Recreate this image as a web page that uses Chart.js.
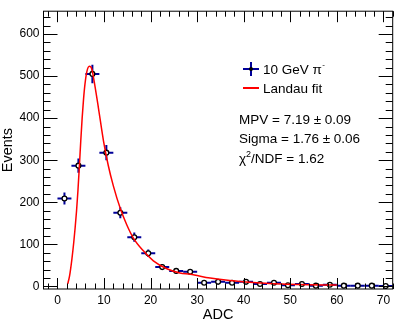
<!DOCTYPE html>
<html>
<head>
<meta charset="utf-8">
<script src="https://cdn.jsdelivr.net/npm/chart.js@4.4.1/dist/chart.umd.min.js"></script>
<style>
  html, body { margin: 0; padding: 0; background: #fff; }
  #wrap { width: 398px; height: 325px; }
</style>
</head>
<body>
<div id="wrap"><canvas id="c" width="398" height="325"></canvas></div>
<script>
// histogram: 3 ADC wide bins
var binCenters = [1.5, 4.5, 7.5, 10.5, 13.5, 16.5, 19.5, 22.5, 25.5, 28.5, 31.5, 34.5,
                  37.5, 40.5, 43.5, 46.5, 49.5, 52.5, 55.5, 58.5, 61.5, 64.5, 67.5, 70.5];
var counts = [209, 287, 505, 318, 175, 117, 79, 46, 37, 35, 9, 11,
              9, 11, 6, 9, 3, 6, 2, 4, 2, 2, 2, 1];
var countErrors = [14, 17, 22, 18, 13, 11, 9, 7, 6, 6, 3, 3.3,
                   3, 3.3, 2.4, 3, 1.7, 2.4, 1.4, 2, 1.4, 1.4, 1.4, 1];
var binHalfWidth = 1.5;

// Landau fit curve
var fitX = [2.2, 2.6, 3.1, 3.5, 3.8, 4.1, 4.4, 4.7, 5.0, 5.3, 5.6, 5.9, 6.3, 6.85, 7.4, 7.9,
            8.8, 9.9, 10.9, 12.0, 13.5, 14.9, 16.3, 18.5, 20.6, 23.5, 26.3, 28.5,
            32.8, 37.0, 41.3, 45.6, 49.2, 54, 58.5, 60];
var fitY = [6, 25, 65, 105, 140, 180, 228, 285, 345, 400, 445, 480, 510, 523, 516, 486,
            424, 345, 288, 239, 185, 146, 115, 84, 61, 42, 32, 29,
            20, 14, 10, 7, 5.5, 4.2, 3.5, 3.3];

var xTicks = [0, 10, 20, 30, 40, 50, 60, 70];
var yTicks = [0, 100, 200, 300, 400, 500, 600];
var xMinorStep = 2;
var yMinorStep = 20;

var fontFamily = "'Liberation Sans', Arial, Helvetica, sans-serif";
Chart.defaults.font.family = fontFamily;
Chart.defaults.color = '#000';

var errorBars = {
  id: 'errorBars',
  beforeDatasetsDraw: function(chart) {
    var xs = chart.scales.x, ys = chart.scales.y, ctx = chart.ctx;
    ctx.save();
    ctx.strokeStyle = '#000099';
    ctx.lineWidth = 2;
    for (var i = 0; i < binCenters.length; i++) {
      var px = xs.getPixelForValue(binCenters[i]);
      var py = ys.getPixelForValue(counts[i]);
      ctx.beginPath();
      ctx.moveTo(xs.getPixelForValue(binCenters[i] - binHalfWidth), py);
      ctx.lineTo(xs.getPixelForValue(binCenters[i] + binHalfWidth), py);
      ctx.moveTo(px, ys.getPixelForValue(counts[i] - countErrors[i]));
      ctx.lineTo(px, ys.getPixelForValue(counts[i] + countErrors[i]));
      ctx.stroke();
    }
    ctx.restore();
  }
};

// ROOT style frame with inward ticks on all four sides
var frame = {
  id: 'frame',
  afterDraw: function(chart) {
    var xs = chart.scales.x, ys = chart.scales.y, ctx = chart.ctx;
    var a = chart.chartArea;
    ctx.save();
    ctx.strokeStyle = '#000';
    ctx.lineWidth = 1;
    ctx.strokeRect(a.left, a.top, a.right - a.left, a.bottom - a.top);
    ctx.beginPath();
    var v, p, len;
    for (v = Math.ceil(xs.min / xMinorStep) * xMinorStep; v <= xs.max; v += xMinorStep) {
      p = Math.round(xs.getPixelForValue(v)) + 0.5;
      len = (v % 10 === 0) ? 11 : 5.5;
      ctx.moveTo(p, a.bottom); ctx.lineTo(p, a.bottom - len);
      ctx.moveTo(p, a.top); ctx.lineTo(p, a.top + len);
    }
    for (v = Math.ceil(ys.min / yMinorStep) * yMinorStep; v <= ys.max; v += yMinorStep) {
      p = Math.round(ys.getPixelForValue(v)) + 0.5;
      len = (v % 100 === 0) ? 14 : 7;
      ctx.moveTo(a.left, p); ctx.lineTo(a.left + len, p);
      ctx.moveTo(a.right, p); ctx.lineTo(a.right - len, p);
    }
    ctx.stroke();
    ctx.restore();
  }
};

var legendBox = {
  id: 'legendBox',
  afterDraw: function(chart) {
    var ctx = chart.ctx;
    ctx.save();
    // histogram entry
    ctx.strokeStyle = '#000099';
    ctx.lineWidth = 2;
    ctx.beginPath();
    ctx.moveTo(243, 69); ctx.lineTo(259, 69);
    ctx.moveTo(251, 62); ctx.lineTo(251, 76);
    ctx.stroke();
    ctx.fillStyle = '#000';
    ctx.beginPath(); ctx.arc(251, 69, 2, 0, Math.PI * 2); ctx.fill();
    // fit entry
    ctx.strokeStyle = '#ff0000';
    ctx.beginPath(); ctx.moveTo(243, 88); ctx.lineTo(259, 88); ctx.stroke();

    ctx.fillStyle = '#000';
    ctx.textBaseline = 'alphabetic';
    ctx.textAlign = 'left';
    ctx.font = '13.5px ' + fontFamily;
    var t = '10 GeV \u03c0';
    ctx.fillText(t, 263, 74);
    var w = ctx.measureText(t).width;
    ctx.font = '8px ' + fontFamily;
    ctx.fillText('-', 263 + w + 0.5, 67);
    ctx.font = '13.5px ' + fontFamily;
    ctx.fillText('Landau fit', 263, 93);
    ctx.fillText('MPV = 7.19 \u00b1 0.09', 239, 123.5);
    ctx.fillText('Sigma = 1.76 \u00b1 0.06', 239, 143);
    ctx.fillText('\u03c7', 239, 162.5);
    var wc = ctx.measureText('\u03c7').width;
    ctx.font = '9px ' + fontFamily;
    ctx.fillText('2', 239 + wc, 156.5);
    var w2 = ctx.measureText('2').width;
    ctx.font = '13.5px ' + fontFamily;
    ctx.fillText('/NDF = 1.62', 239 + wc + w2, 162.5);
    ctx.restore();
  }
};

var histPoints = binCenters.map(function(x, i) { return {x: x, y: counts[i]}; });
var fitPoints = fitX.map(function(x, i) { return {x: x, y: fitY[i]}; });

new Chart(document.getElementById('c'), {
  type: 'scatter',
  data: {
    datasets: [
      {
        label: 'Landau fit',
        data: fitPoints,
        showLine: true,
        borderColor: '#ff0000',
        borderWidth: 1.5,
        pointRadius: 0,
        cubicInterpolationMode: 'monotone',
        order: 0
      },
      {
        label: '10 GeV \u03c0-',
        data: histPoints,
        pointRadius: 2.4,
        pointBorderWidth: 1.3,
        pointBackgroundColor: '#fff',
        pointBorderColor: '#000',
        order: 1
      }
    ]
  },
  options: {
    responsive: false,
    animation: false,
    layout: { padding: { top: 4, right: 5, left: 0, bottom: 0 } },
    plugins: { legend: { display: false }, tooltip: { enabled: false } },
    scales: {
      x: {
        type: 'linear',
        min: -3,
        max: 72,
        afterBuildTicks: function(scale) {
          scale.ticks = xTicks.map(function(v) { return {value: v}; });
        },
        afterFit: function(scale) { scale.height = 36; },
        grid: { display: false, drawTicks: false },
        border: { display: false },
        ticks: { padding: 4, maxRotation: 0, font: { size: 12 } },
        title: { display: true, text: 'ADC', font: { size: 14.5 }, padding: { top: 0, bottom: 1.3 } }
      },
      y: {
        type: 'linear',
        min: -6,
        max: 654,
        afterBuildTicks: function(scale) {
          scale.ticks = yTicks.map(function(v) { return {value: v}; });
        },
        afterFit: function(scale) { scale.width = 43.5; },
        grid: { display: false, drawTicks: false },
        border: { display: false },
        ticks: { padding: 4, font: { size: 12 } },
        title: { display: true, text: 'Events', font: { size: 14.5, lineHeight: 1 }, padding: { top: 1, bottom: 0 } }
      }
    }
  },
  plugins: [errorBars, frame, legendBox]
});
</script>
</body>
</html>
